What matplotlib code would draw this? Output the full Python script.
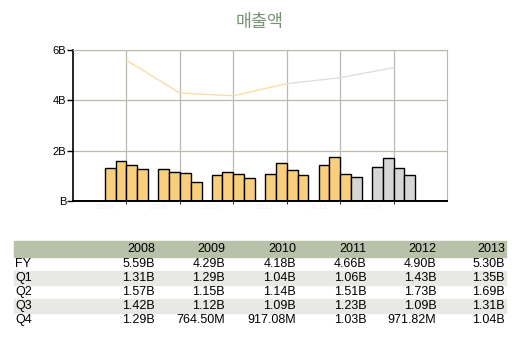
import numpy as np
import matplotlib.pyplot as plt
from matplotlib.patches import Rectangle

plt.rcParams['font.family'] = ['Liberation Sans', 'DejaVu Sans']

years = ['2008', '2009', '2010', '2011', '2012', '2013']
# revenue in billions
fy = [5.59, 4.29, 4.18, 4.66, 4.90, 5.30]
q1 = [1.31, 1.29, 1.04, 1.06, 1.43, 1.35]
q2 = [1.57, 1.15, 1.14, 1.51, 1.73, 1.69]
q3 = [1.42, 1.12, 1.09, 1.23, 1.09, 1.31]
q4 = [1.29, 0.7645, 0.91708, 1.03, 0.97182, 1.04]
row_names = ['FY', 'Q1', 'Q2', 'Q3', 'Q4']

n_actual_q = 19   # quarters reported so far, the rest are estimates
n_actual_fy = 4

ORANGE = '#f9cf7d'
GREY = '#d6d6d6'
GRID = '#b9b9b0'


def fmt(v):
    if v >= 1:
        return '%.2fB' % v
    return '%.2fM' % (v * 1000)


fig = plt.figure(figsize=(5.19, 3.44), dpi=100)
ax = fig.add_axes([0.1407, 0.4157, 0.7206, 0.439])

x = np.arange(1, len(years) + 1)
w = 0.2025
quarters = [q1, q2, q3, q4]
for i, q in enumerate(quarters):
    cols = [ORANGE if 4 * j + i < n_actual_q else GREY for j in range(len(years))]
    ax.bar(x + (i - 1.5) * w, q, width=w, color=cols, edgecolor='black',
           linewidth=1.0, zorder=3)

ax.plot(x[:n_actual_fy], fy[:n_actual_fy], color='#fbdca6', lw=1.0, zorder=2)
ax.plot(x[n_actual_fy - 1:], fy[n_actual_fy - 1:], color='#dedede', lw=1.0, zorder=2)

ax.set_xlim(0, 7)
ax.set_ylim(0, 6)
ax.set_yticks([0, 2, 4, 6])
ax.set_yticklabels(['B', '2B', '4B', '6B'], fontsize=8)
ax.set_xticks(x - 2 * w)
ax.set_xticklabels(years, fontsize=6, color='#f2f2f2')
ax.tick_params(axis='x', length=0, pad=2)
ax.tick_params(axis='y', length=4, width=1, pad=1)
ax.set_xticks(np.arange(1, 7), minor=True)
ax.grid(which='minor', axis='x', color=GRID, lw=0.9, zorder=0)
ax.grid(which='major', axis='y', color=GRID, lw=0.9, zorder=0)
ax.spines['top'].set_color(GRID)
ax.spines['right'].set_color(GRID)
ax.spines['left'].set_linewidth(1.2)
ax.spines['bottom'].set_linewidth(1.4)
ax.spines['bottom'].set_zorder(4)

fig.text(0.501, 0.935, '매출액', ha='center', va='center', fontsize=12.5,
         color='#7a9174', family=['Noto Sans CJK KR', 'DejaVu Sans'])

# data table under the chart
W, H = 519.0, 344.0
left, right = 14, 506
row_h = 14.2
top = 240.5
fig.patches.append(Rectangle((left / W, 1 - (top + 16) / H), (right - left) / W, 16 / H,
                             transform=fig.transFigure, color='#b8c1aa', zorder=0))
col_right = [155, 225, 296, 366.5, 436.5, 505]
for j, yr in enumerate(years):
    fig.text(col_right[j] / W, 1 - (top + 8.5) / H, yr, ha='right', va='center', fontsize=9)

rows = [fy, q1, q2, q3, q4]
for r, (name, vals) in enumerate(zip(row_names, rows)):
    y0 = top + 16 + r * row_h
    if r % 2 == 1:
        fig.patches.append(Rectangle((left / W, 1 - (y0 + row_h) / H), (right - left) / W,
                                     row_h / H, transform=fig.transFigure,
                                     color='#e8e9e4', zorder=0))
    yc = 1 - (y0 + row_h / 2) / H
    fig.text(15 / W, yc, name, ha='left', va='center', fontsize=9)
    for j, v in enumerate(vals):
        fig.text(col_right[j] / W, yc, fmt(v), ha='right', va='center', fontsize=9)

fig.savefig('out.png', dpi=100)
